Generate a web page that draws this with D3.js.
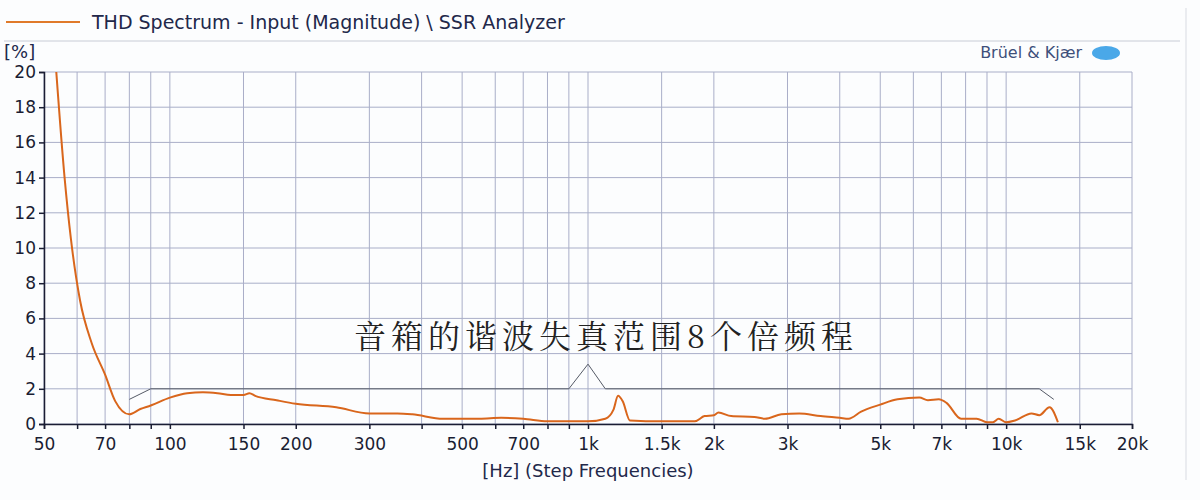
<!DOCTYPE html>
<html><head><meta charset="utf-8">
<script src="https://cdn.jsdelivr.net/npm/d3@7"></script>
<style>
body { margin: 0; background: #fff; }
text { font-family: 'DejaVu Sans', sans-serif; }
</style></head>
<body><div class="canvas"></div>
<script>
// THD curve (Hz, %)
const freqs = [53.5, 56, 58, 61, 65, 70, 74, 80, 85, 90, 100, 110, 120, 130, 140, 150, 155, 160, 180, 200, 250, 300, 350, 380, 450, 550, 620, 700, 800, 1000, 1100, 1150, 1180, 1210, 1260, 1500, 1800, 1900, 2000, 2050, 2200, 2500, 2650, 2900, 3200, 3600, 4000, 4200, 4500, 5000, 5500, 6200, 6500, 6900, 7200, 7800, 8500, 9000, 9300, 9600, 10000, 10500, 11500, 12000, 12700, 13300];
const thd = [20, 14, 10.5, 7, 4.6, 2.8, 1.3, 0.55, 0.85, 1.05, 1.5, 1.75, 1.8, 1.75, 1.65, 1.65, 1.75, 1.6, 1.35, 1.15, 0.95, 0.6, 0.6, 0.55, 0.3, 0.3, 0.35, 0.3, 0.15, 0.15, 0.3, 0.8, 1.6, 1.3, 0.2, 0.15, 0.15, 0.45, 0.5, 0.65, 0.45, 0.4, 0.3, 0.55, 0.6, 0.45, 0.35, 0.3, 0.7, 1.1, 1.4, 1.5, 1.35, 1.4, 1.2, 0.3, 0.3, 0.1, 0.1, 0.3, 0.1, 0.2, 0.6, 0.5, 0.95, 0.1];

// annotation bracket (Hz, %)
const bracketF = [80, 90, 900, 1000, 1100, 12000, 13000];
const bracketV = [1.4, 2, 2, 3.4, 2, 2, 1.4];

const gridF = [50, 60, 70, 80, 90, 100, 150, 200, 300, 400, 500, 600, 700, 800, 900, 1000, 1500, 2000, 3000, 4000, 5000, 6000, 7000, 8000, 9000, 10000, 15000, 20000];
const labelF = [50, 70, 100, 150, 200, 300, 500, 700, 1000, 1500, 2000, 3000, 5000, 7000, 10000, 15000, 20000];
const yTicks = [0, 2, 4, 6, 8, 10, 12, 14, 16, 18, 20];

const svg = d3.select('.canvas').append('svg')
  .attr('width', 1200).attr('height', 500);

const x = d3.scaleLog().domain([50, 20000]).range([44, 1132]);
const y = d3.scaleLinear().domain([0, 20]).range([424, 72]);

svg.append('rect').attr('x', 0).attr('y', 0).attr('width', 1200).attr('height', 500).attr('fill', '#fcfdfe');

// legend header
svg.append('line').attr('x1', 6).attr('x2', 80).attr('y1', 22).attr('y2', 22)
  .attr('stroke', '#e07a2a').attr('stroke-width', 2);
svg.append('text').attr('x', 92).attr('y', 29).attr('font-size', 19).attr('fill', '#22284a')
  .text('THD Spectrum - Input (Magnitude) \\ SSR Analyzer');
svg.append('line').attr('x1', 4).attr('x2', 1180).attr('y1', 41).attr('y2', 41)
  .attr('stroke', '#c8ccd6');
svg.append('line').attr('x1', 1186).attr('x2', 1186).attr('y1', 8).attr('y2', 480)
  .attr('stroke', '#d8dbe2');
svg.append('text').attr('x', 4).attr('y', 58).attr('font-size', 18).attr('fill', '#22284a').text('[%]');
svg.append('text').attr('x', 1082).attr('y', 58).attr('font-size', 16).attr('fill', '#3e4f7a')
  .attr('text-anchor', 'end').text('Brüel & Kjær');
svg.append('ellipse').attr('cx', 1106).attr('cy', 53).attr('rx', 14).attr('ry', 7).attr('fill', '#4aa8e8');

// grid
svg.append('g').selectAll('line').data(gridF).join('line')
  .attr('x1', d => x(d)).attr('x2', d => x(d)).attr('y1', y(20)).attr('y2', y(0))
  .attr('stroke', '#a9aec8').attr('stroke-width', 1);
svg.append('g').selectAll('line').data(yTicks).join('line')
  .attr('x1', x(50)).attr('x2', x(20000)).attr('y1', d => y(d)).attr('y2', d => y(d))
  .attr('stroke', '#a9aec8').attr('stroke-width', 1);

// axes
const xAxis = svg.append('g').attr('transform', `translate(0, ${y(0)})`)
  .call(d3.axisBottom(x).tickValues(gridF).tickSize(5)
    .tickFormat(d => labelF.includes(d) ? (d >= 1000 ? (d / 1000) + 'k' : d) : ''));
const yAxis = svg.append('g').attr('transform', `translate(${x(50)}, 0)`)
  .call(d3.axisLeft(y).tickValues(yTicks).tickSize(5));
[xAxis, yAxis].forEach(a => {
  a.selectAll('path, line').attr('stroke', '#1a1d33').attr('stroke-width', 1.5);
  a.selectAll('text').attr('font-size', 17).attr('fill', '#1a1d33')
    .attr('font-family', "'DejaVu Sans', sans-serif");
});
xAxis.selectAll('text').attr('dy', '1.05em');

svg.append('text').attr('x', 588).attr('y', 477).attr('text-anchor', 'middle')
  .attr('font-size', 18).attr('fill', '#22284a').text('[Hz] (Step Frequencies)');

// bracket annotation
const line = d3.line().x(d => x(d[0])).y(d => y(d[1]));
svg.append('path').datum(d3.zip(bracketF, bracketV)).attr('d', line)
  .attr('fill', 'none').attr('stroke', '#555a66').attr('stroke-width', 1);
svg.append('text').attr('x', 606).attr('y', 348).attr('text-anchor', 'middle')
  .attr('font-size', 32).attr('letter-spacing', 5).attr('fill', '#222')
  .style('font-family', "'Noto Serif CJK SC', 'Noto Sans CJK SC', serif")
  .text('音箱的谐波失真范围8个倍频程');

// THD curve
svg.append('path').datum(d3.zip(freqs, thd)).attr('d', line.curve(d3.curveMonotoneX))
  .attr('fill', 'none').attr('stroke', '#d9661c').attr('stroke-width', 2);
</script></body></html>
